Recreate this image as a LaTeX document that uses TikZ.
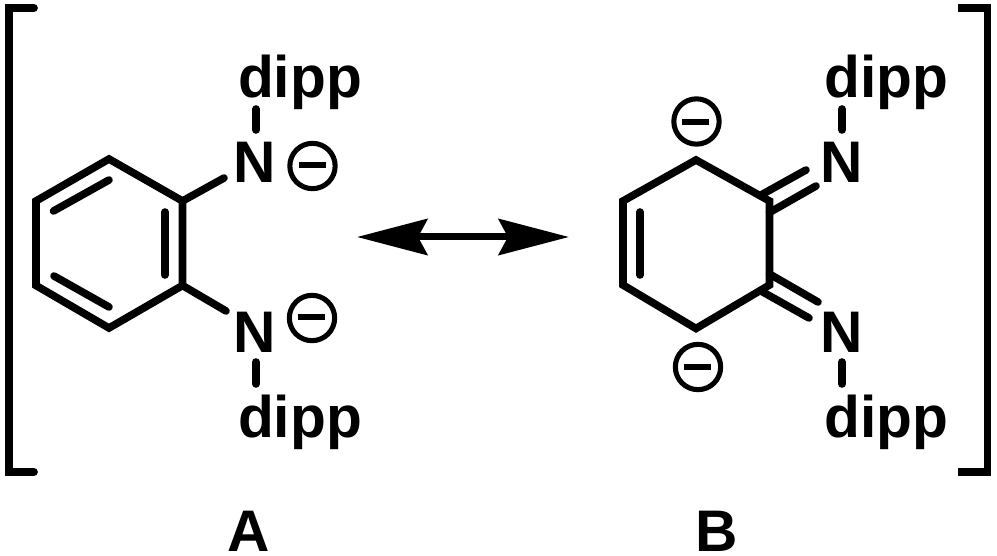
\documentclass[tikz,border=0pt]{standalone}
\usepackage{fontspec}
\setmainfont{Liberation Sans}
\usetikzlibrary{arrows.meta}
\tikzset{
 bond/.style={line width=5.7pt,line cap=round,line join=miter,black},
 brk/.style={line width=5.8pt,line cap=round,line join=miter,black},
 brkb/.style={line width=5.8pt,line cap=butt,line join=miter,black},
 atom/.style={font=\bfseries\fontsize{44}{44}\selectfont,inner sep=0pt,text=black,anchor=base},
 charge/.style={circle,draw=black,line width=3.8pt,minimum size=34pt,inner sep=0pt},
 minus/.style={line width=4.3pt,line cap=butt,black},
}
\begin{document}
\begin{tikzpicture}[x=0.75pt,y=-0.75pt]
\useasboundingbox (0,0) rectangle (997,556);
% brackets
\coordinate (bl1) at (34,8); \coordinate (bl2) at (8.7,8); \coordinate (bl3) at (8.7,472); \coordinate (bl4) at (34,472);
\draw[brk] (bl1) -- (bl2) -- (bl3) -- (bl4);
\coordinate (br1) at (958,8); \coordinate (br2) at (987.5,8); \coordinate (br3) at (987.5,472); \coordinate (br4) at (958,472);
\draw[brkb] (br1) -- (br2) -- (br3) -- (br4);
% A ring
\coordinate (a1) at (109,159); \coordinate (a2) at (182.5,201); \coordinate (a3) at (182.5,285.5);
\coordinate (a4) at (109,328); \coordinate (a5) at (36,285.5); \coordinate (a6) at (36,201);
\draw[bond] (a1) -- (a2) -- (a3) -- (a4) -- (a5) -- (a6) -- cycle;
\coordinate (ai1s) at (53.5,211); \coordinate (ai1e) at (109,180);
\coordinate (ai2s) at (165,212); \coordinate (ai2e) at (165,275);
\coordinate (ai3s) at (54,276); \coordinate (ai3e) at (109,307);
\draw[bond] (ai1s) -- (ai1e);
\draw[bond] (ai2s) -- (ai2e);
\draw[bond] (ai3s) -- (ai3e);
\node[atom] (na1) at (255,183) {N};
\node[atom] (na2) at (255,352) {N};
\node[atom] (da1) at (300,98) {dipp};
\node[atom] (da2) at (300,437) {dipp};
\coordinate (na1b) at (224,178); \coordinate (na2b) at (226,311);
\draw[bond] (a2) -- (na1b);
\draw[bond] (a3) -- (na2b);
\coordinate (va1) at (256,109); \coordinate (va2) at (256,130);
\coordinate (va3) at (256,362); \coordinate (va4) at (256,384);
\draw[bond] (va1) -- (va2);
\draw[bond] (va3) -- (va4);
\node[charge] (ca1) at (312.5,166) {};
\node[charge] (ca2) at (312,318) {};
\coordinate (ca1l) at (299,165); \coordinate (ca1r) at (326,165);
\coordinate (ca2l) at (298,317); \coordinate (ca2r) at (325,317);
\draw[minus] (ca1l) -- (ca1r);
\draw[minus] (ca2l) -- (ca2r);
% arrow
\coordinate (arl) at (357,237); \coordinate (arr) at (569,237);
\draw[line width=5.25pt,{Stealth[length=52.75pt,width=27pt,inset=7pt]}-{Stealth[length=52.75pt,width=27pt,inset=7pt]}] (arl) -- (arr);
% B ring
\coordinate (b1) at (696,160); \coordinate (b2) at (769.5,201); \coordinate (b3) at (769.5,285);
\coordinate (b4) at (696,328.5); \coordinate (b5) at (623,285); \coordinate (b6) at (623,201);
\draw[bond] (b1) -- (b2) -- (b3) -- (b4) -- (b5) -- (b6) -- cycle;
\coordinate (bi1) at (640,212); \coordinate (bi2) at (640,275);
\draw[bond] (bi1) -- (bi2);
\node[atom] (nb1) at (842,183) {N};
\node[atom] (nb2) at (842,352) {N};
\node[atom] (db1) at (886.5,98) {dipp};
\node[atom] (db2) at (886.5,437) {dipp};
\coordinate (x1) at (761,195); \coordinate (x2) at (806,170);
\coordinate (x3) at (769.5,212.5); \coordinate (x4) at (816,186);
\coordinate (x5) at (769.5,274); \coordinate (x6) at (818,302);
\coordinate (x7) at (761,291); \coordinate (x8) at (809,318);
\draw[bond] (x1) -- (x2); \draw[bond] (x3) -- (x4);
\draw[bond] (x5) -- (x6); \draw[bond] (x7) -- (x8);
\coordinate (vb1) at (842,109); \coordinate (vb2) at (842,130);
\coordinate (vb3) at (842,362); \coordinate (vb4) at (842,384);
\draw[bond] (vb1) -- (vb2);
\draw[bond] (vb3) -- (vb4);
\node[charge] (cb1) at (696.5,121.5) {};
\node[charge] (cb2) at (698,367) {};
\coordinate (cb1l) at (682,122); \coordinate (cb1r) at (709,122);
\coordinate (cb2l) at (684,367); \coordinate (cb2r) at (711,367);
\draw[minus] (cb1l) -- (cb1r);
\draw[minus] (cb2l) -- (cb2r);
\node[atom] (A) at (249,551) {A};
\node[atom] (B) at (717,551) {B};
\end{tikzpicture}
\end{document}
